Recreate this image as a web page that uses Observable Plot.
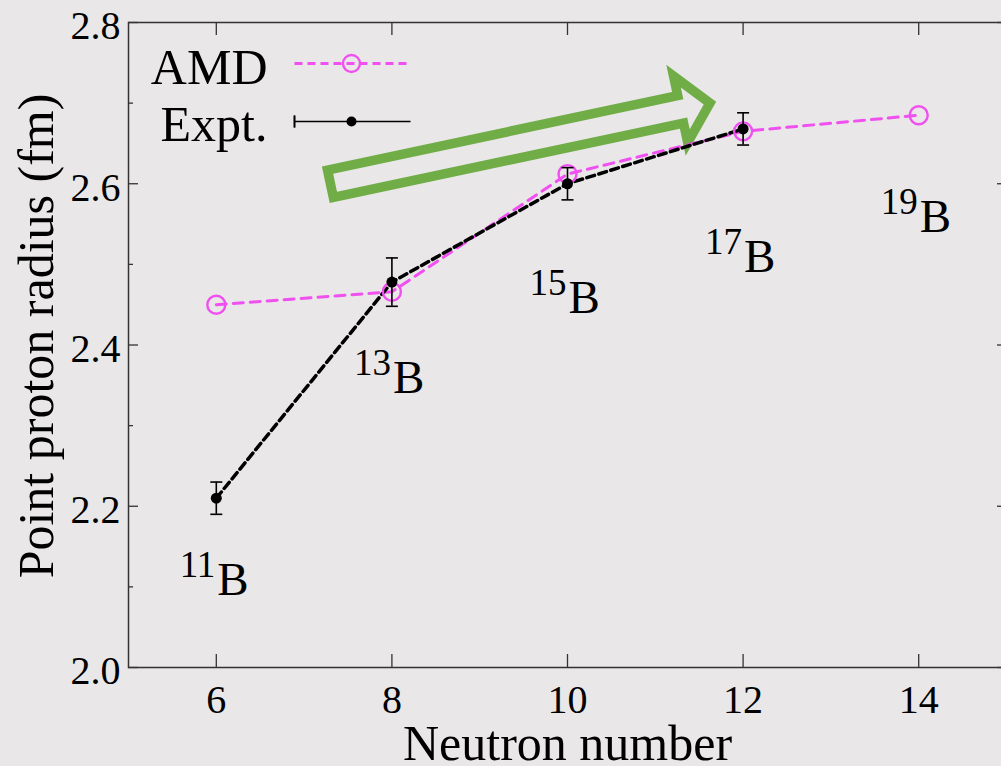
<!DOCTYPE html>
<html><head><meta charset="utf-8">
<script src="https://cdn.jsdelivr.net/npm/d3@7"></script>
<script src="https://cdn.jsdelivr.net/npm/@observablehq/plot@0.6"></script>
<style>html,body{margin:0;padding:0;background:#e9e7e8;overflow:hidden;}</style>
</head><body><div id="chart"></div>
<script>
// ---- data ----
const neutronNumber = [6, 8, 10, 12, 14];
const amdRadius = [2.45, 2.466, 2.612, 2.665, 2.685];
const exptNeutron = [6, 8, 10, 12];
const exptRadius = [2.21, 2.478, 2.60, 2.668];
const exptError = [0.02, 0.03, 0.02, 0.02];
const isotopeMass = ["11", "13", "15", "17", "19"];
const isotopeLabelY = [2.09, 2.34, 2.44, 2.49, 2.54];
const xTicks = [6, 8, 10, 12, 14];
const yMajorTicks = [2.0, 2.2, 2.4, 2.6, 2.8];
const yMinorTicks = [2.1, 2.3, 2.5, 2.7];
const seriesNames = ["AMD", "Expt."];
const xLabel = "Neutron number";
const yLabel = "Point proton radius (fm)";
const trendArrow = [{x: 7.3, y: 2.6, angle: 78}];

// ---- tables ----
const amd = neutronNumber.map((n, i) => ({n, r: amdRadius[i]}));
const expt = exptNeutron.map((n, i) => ({n, r: exptRadius[i], e: exptError[i]}));
const labels = neutronNumber.map((n, i) => ({n, y: isotopeLabelY[i], mass: isotopeMass[i]}));

// ---- styles ----
const MAG = "#f050f0";
const GREEN = "#70ad47";
const AX = "#333333";
const FONT = "Liberation Serif";

const lineShape = {draw(ctx, l) { ctx.moveTo(0, 0); ctx.lineTo(0, -l); }};
const blockArrow = {draw(ctx, l) {
  const hw = 14, hh = 34, hl = 30;
  ctx.moveTo(-hw, 0);
  ctx.lineTo(-hw, -(l - hl));
  ctx.lineTo(-hh, -(l - hl));
  ctx.lineTo(0, -l);
  ctx.lineTo(hh, -(l - hl));
  ctx.lineTo(hw, -(l - hl));
  ctx.lineTo(hw, 0);
  ctx.closePath();
}};

const noText = () => "";

const chart = Plot.plot({
  width: 1001,
  height: 766,
  marginLeft: 128,
  marginRight: -5,
  marginTop: 22,
  marginBottom: 99,
  style: {background: "#e9e7e8", color: "#000", fontFamily: FONT, overflow: "hidden"},
  x: {domain: [5, 15], range: [128, 1006]},
  y: {domain: [2.0, 2.8]},
  marks: [
    Plot.frame({stroke: AX, strokeWidth: 1.5}),
    // inward ticks
    Plot.axisY(yMajorTicks, {anchor: "left", tickSize: 10, dx: 10, tickFormat: noText, label: null, stroke: AX, strokeWidth: 1.3}),
    Plot.axisY(yMinorTicks, {anchor: "left", tickSize: 5, dx: 5, tickFormat: noText, label: null, stroke: AX, strokeWidth: 1.3}),
    Plot.axisY(yMajorTicks, {anchor: "right", tickSize: 10, dx: -10, tickFormat: noText, label: null, stroke: AX, strokeWidth: 1.3}),
    Plot.axisY(yMinorTicks, {anchor: "right", tickSize: 5, dx: -5, tickFormat: noText, label: null, stroke: AX, strokeWidth: 1.3}),
    Plot.axisX(xTicks, {anchor: "bottom", tickSize: 13, dy: -13, tickFormat: noText, label: null, stroke: AX, strokeWidth: 1.3}),
    Plot.axisX(xTicks, {anchor: "top", tickSize: 12, dy: 12, tickFormat: noText, label: null, stroke: AX, strokeWidth: 1.3}),
    // tick labels
    Plot.axisY(yMajorTicks, {anchor: "left", tickSize: 0, tickPadding: 8, dy: 4, fontSize: 40, fontFamily: FONT, tickFormat: d => d.toFixed(1), label: null}),
    Plot.axisX(xTicks, {anchor: "bottom", tickSize: 0, tickPadding: 17, fontSize: 40, fontFamily: FONT, label: null}),
    // axis titles
    Plot.text([xLabel], {frameAnchor: "bottom", textAnchor: "middle", lineAnchor: "bottom", dy: 92, fontSize: 50, fontFamily: FONT, fill: "#000"}),
    Plot.text([yLabel], {frameAnchor: "left", rotate: -90, textAnchor: "middle", lineAnchor: "middle", dx: -92, dy: -9, fontSize: 50, fontFamily: FONT, fill: "#000"}),
    // green trend arrow
    Plot.vector(trendArrow, {x: "x", y: "y", rotate: "angle", length: 388, anchor: "start", shape: blockArrow,
      stroke: GREEN, strokeWidth: 9.5, strokeLinejoin: "miter", strokeLinecap: "butt", fill: "none"}),
    // AMD series
    Plot.line(amd, {x: "n", y: "r", stroke: MAG, strokeWidth: 3, strokeDasharray: "10,7"}),
    // Expt series
    Plot.line(expt, {x: "n", y: "r", stroke: "#000", strokeWidth: 3.5, strokeDasharray: "8,4.5"}),
    Plot.dot(amd, {x: "n", y: "r", r: 9, stroke: MAG, strokeWidth: 2.4, fill: "none"}),
    Plot.ruleX(expt, {x: "n", y1: d => d.r - d.e, y2: d => d.r + d.e, stroke: "#000", strokeWidth: 1.6}),
    Plot.vector(expt, {x: "n", y: d => d.r + d.e, length: 12, rotate: 90, anchor: "middle", shape: lineShape, stroke: "#000", strokeWidth: 1.6, strokeLinecap: "butt"}),
    Plot.vector(expt, {x: "n", y: d => d.r - d.e, length: 12, rotate: 90, anchor: "middle", shape: lineShape, stroke: "#000", strokeWidth: 1.6, strokeLinecap: "butt"}),
    Plot.dot(expt, {x: "n", y: "r", r: 5.5, fill: "#000"}),
    // isotope labels
    Plot.text(labels, {x: "n", y: "y", text: () => "B", textAnchor: "start", lineAnchor: "bottom", dx: 1, fontSize: 47, fontFamily: FONT, fill: "#000"}),
    Plot.text(labels, {x: "n", y: "y", text: "mass", textAnchor: "end", lineAnchor: "bottom", dx: -1, dy: -18, fontSize: 37, fontFamily: FONT, fill: "#000"}),
    // legend
    Plot.text([seriesNames[0]], {frameAnchor: "top-left", textAnchor: "end", lineAnchor: "bottom", dx: 139, dy: 61, fontSize: 50, fontFamily: FONT, fill: "#000"}),
    Plot.text([seriesNames[1]], {frameAnchor: "top-left", textAnchor: "end", lineAnchor: "bottom", dx: 139, dy: 118, fontSize: 50, fontFamily: FONT, fill: "#000"}),
    Plot.vector([0], {frameAnchor: "top-left", dx: 166, dy: 41, length: 116, rotate: 90, anchor: "start", shape: lineShape, stroke: MAG, strokeWidth: 2.8, strokeDasharray: "8,5", strokeLinecap: "butt"}),
    Plot.dot([0], {frameAnchor: "top-left", dx: 223, dy: 41, r: 8.5, stroke: MAG, strokeWidth: 2.4, fill: "none"}),
    Plot.vector([0], {frameAnchor: "top-left", dx: 166, dy: 99, length: 116, rotate: 90, anchor: "start", shape: lineShape, stroke: "#000", strokeWidth: 1.6, strokeLinecap: "butt"}),
    Plot.vector([0, 116], {frameAnchor: "top-left", dx: 166, dy: 99, length: 12, rotate: 0, anchor: "middle", shape: lineShape, stroke: "#000", strokeWidth: 1.6, strokeLinecap: "butt"}),
    Plot.dot([0], {frameAnchor: "top-left", dx: 223, dy: 99, r: 5, fill: "#000"})
  ]
});
document.getElementById("chart").appendChild(chart);
</script>
</body></html>
